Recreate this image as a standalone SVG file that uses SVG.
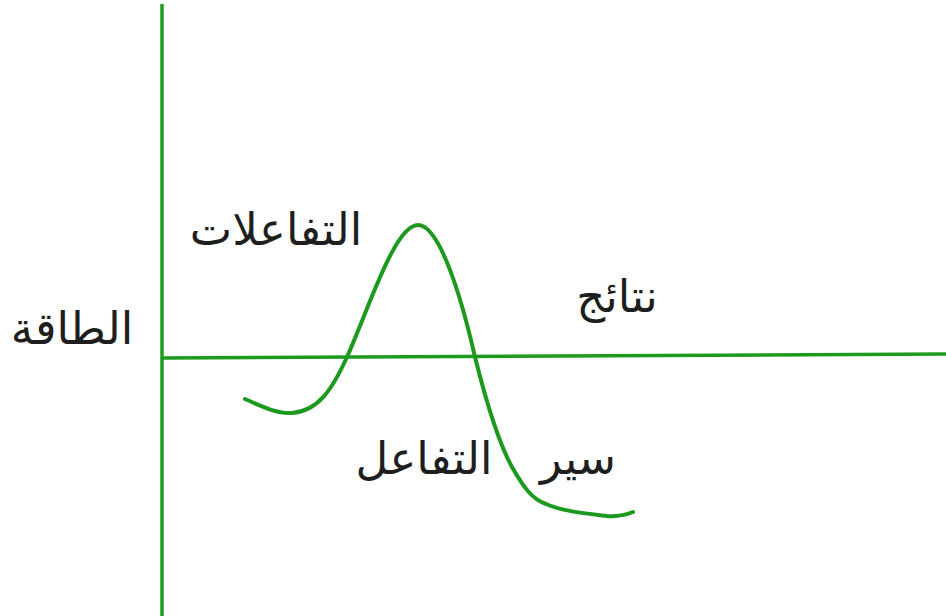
<svg xmlns="http://www.w3.org/2000/svg" width="946" height="616" viewBox="0 0 946 616">
<style>
.ax{stroke:#1d9a1d;stroke-width:3.5;fill:none;stroke-linecap:butt}
.cv{stroke:#1d9a1d;stroke-width:4;fill:none;stroke-linecap:round;stroke-linejoin:round}
.t{font-family:"DejaVu Sans","Noto Sans",sans-serif;font-size:45px;fill:#1e1e1e;text-anchor:middle}
</style>
<rect width="946" height="616" fill="#ffffff"/>
<g id="connectors">
<line class="ax" x1="162" y1="4" x2="162" y2="616"/>
<line class="ax" x1="162" y1="358" x2="946" y2="354"/>
<path class="cv" d="M245,399 C265,408 278,414 292,413 C318,411 332,390 347,357 C370,305 395,225 418,225 C440,225 462,300 475,357 C485,397 497,440 512,467 C524,488 532,499 546,504 C562,511 582,513 607,516 C618,517 628,514 633,512"/>
</g>
<g id="label-energy"><text class="t" x="72" y="344">الطاقة</text></g>
<g id="label-reactants"><text class="t" x="276" y="245">التفاعلات</text></g>
<g id="label-products"><text class="t" x="617" y="312">نتائج</text></g>
<g id="label-progress"><text class="t" x="424" y="474">التفاعل</text><text class="t" x="578" y="474">سير</text></g>
</svg>
